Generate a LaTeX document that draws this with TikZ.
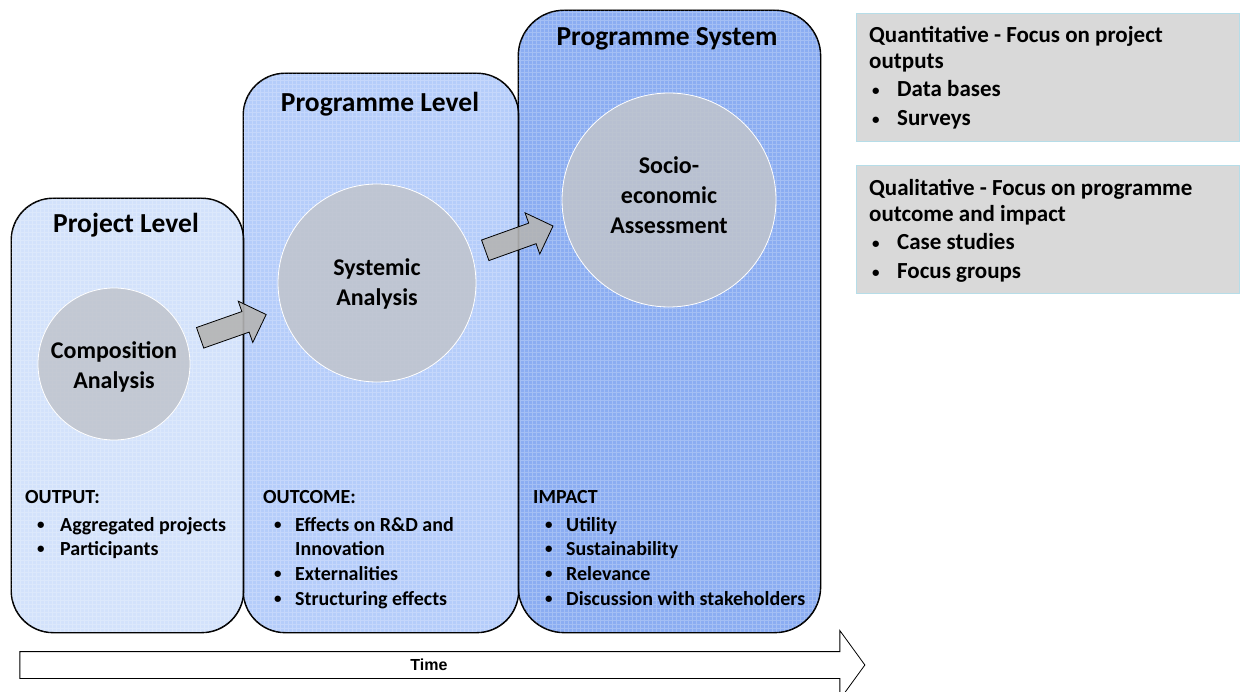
\documentclass[tikz,border=0pt]{standalone}
\usepackage{fontspec}
\setmainfont{Carlito}
\newfontfamily\arialf{Liberation Sans}
\usetikzlibrary{shapes.arrows}
\definecolor{boxA}{HTML}{D3E2FB}
\definecolor{boxB}{HTML}{B5CDFA}
\definecolor{boxC}{HTML}{8BADF2}
\definecolor{circ}{HTML}{C0C4CC}
\definecolor{sidefill}{HTML}{D9D9D9}
\definecolor{sideline}{HTML}{B6DDE8}
\definecolor{arrfill}{HTML}{B4B4B4}
\newcommand{\bul}{\raisebox{1.8pt}{\fontsize{15}{15}\selectfont •}}
\begin{document}
\begin{tikzpicture}[x=1pt,y=-1pt,
  level/.style={draw=black, line width=0.9pt, rounded corners=42pt, inner sep=0pt, anchor=north west},
  texture/.style={draw=white, opacity=0.22, line width=0.5pt},
  circnode/.style={circle, draw=white, line width=0.8pt, fill=circ, fill opacity=0.85, inner sep=0pt},
  ttl/.style={font=\bfseries\fontsize{27.5}{30}\selectfont, anchor=base},
  ctxt/.style={font=\bfseries\fontsize{24}{28}\selectfont, anchor=base},
  lst/.style={font=\bfseries\fontsize{20}{22}\selectfont, anchor=base west, inner sep=0pt},
  side/.style={font=\bfseries\fontsize{23}{26}\selectfont, anchor=base west, inner sep=0pt},
  sidebox/.style={draw=sideline, line width=1.2pt, fill=sidefill, inner sep=0pt, anchor=north west},
  blockarrow/.style={single arrow, draw=black, line width=0.8pt, fill=arrfill, fill opacity=0.9, inner sep=0pt, inner ysep=10.5pt, single arrow head extend=11pt, single arrow tip angle=90},
]
\useasboundingbox (0,0) rectangle (1244,692);

% level boxes
\node[level, fill=boxA, minimum width=232pt, minimum height=434pt] (proj) at (11,198) {};
\begin{scope}
  \clip[rounded corners=42pt] (11,198) rectangle (243,632);
  \draw[texture, step=4pt] (11,198) grid (243,632);
\end{scope}
\node[level, fill=boxB, minimum width=275pt, minimum height=559pt] (prog) at (243,73) {};
\begin{scope}
  \clip[rounded corners=42pt] (243,73) rectangle (518,632);
  \draw[texture, step=4pt] (243,73) grid (518,632);
\end{scope}
\node[level, fill=boxC, rounded corners=46pt, minimum width=302pt, minimum height=622pt] (sys) at (518,10) {};
\begin{scope}
  \clip[rounded corners=46pt] (518,10) rectangle (820,632);
  \draw[texture, step=4pt] (518,10) grid (820,632);
\end{scope}
\draw[line width=0.9pt, rounded corners=42pt] (proj.north west) rectangle (proj.south east);
\draw[line width=0.9pt, rounded corners=42pt] (prog.north west) rectangle (prog.south east);
\draw[line width=0.9pt, rounded corners=46pt] (sys.north west) rectangle (sys.south east);

% titles
\node[ttl] (t1) at (126,233) {Project Level};
\node[ttl] (t2) at (380,112) {Programme Level};
\node[ttl] (t3) at (667,46) {Programme System};

% circles
\node[circnode, minimum size=152pt] (c1) at (114,364) {};
\node[circnode, minimum size=198pt] (c2) at (377,283) {};
\node[circnode, minimum size=214pt] (c3) at (669,200) {};

\node[ctxt] (c1a) at (114,358) {Composition};
\node[ctxt] (c1b) at (114,388) {Analysis};
\node[ctxt] (c2a) at (377,276) {Systemic};
\node[ctxt] (c2b) at (377,306) {Analysis};
\node[ctxt] (c3a) at (669,174) {Socio-};
\node[ctxt] (c3b) at (669,204) {economic};
\node[ctxt] (c3c) at (669,234) {Assessment};

% block arrows
\node[blockarrow, minimum height=70pt, rotate=19.4] (a1) at (228,328) {};
\node[blockarrow, minimum height=72pt, rotate=19.7] (a2) at (514,240) {};

% lists
\node[lst] (o0) at (25,503) {OUTPUT:};
\node[lst] (o1b) at (37,531) {\bul};
\node[lst] (o1) at (60,531) {Aggregated projects};
\node[lst] (o2b) at (37,555) {\bul};
\node[lst] (o2) at (60,555) {Participants};

\node[lst] (m0) at (263,503) {OUTCOME:};
\node[lst] (m1b) at (274,531) {\bul};
\node[lst] (m1) at (295,531) {Effects on R\&D and};
\node[lst] (m1c) at (295,555) {Innovation};
\node[lst] (m2b) at (274,580) {\bul};
\node[lst] (m2) at (295,580) {Externalities};
\node[lst] (m3b) at (274,605) {\bul};
\node[lst] (m3) at (295,605) {Structuring effects};

\node[lst] (i0) at (533,503) {IMPACT};
\node[lst] (i1b) at (545,531) {\bul};
\node[lst] (i1) at (566,531) {Utility};
\node[lst] (i2b) at (545,555) {\bul};
\node[lst] (i2) at (566,555) {Sustainability};
\node[lst] (i3b) at (545,580) {\bul};
\node[lst] (i3) at (566,580) {Relevance};
\node[lst] (i4b) at (545,605) {\bul};
\node[lst] (i4) at (566,605) {Discussion with stakeholders};

% time arrow
\node[single arrow, draw=black, line width=0.8pt, fill=white, inner sep=0pt, inner ysep=13pt,
      single arrow head extend=21pt, single arrow tip angle=108, minimum height=845pt] (time) at (437.5,665) {};
\node[font=\arialf\bfseries\fontsize{16}{18}\selectfont] (timel) at (429,665) {Time};

% side boxes
\node[sidebox, minimum width=383pt, minimum height=128pt] (q1) at (856,13) {};
\node[side] (q1a) at (869,43) {Quantitative - Focus on project};
\node[side] (q1b) at (869,69) {outputs};
\node[side] (q1c) at (872,97) {\bul};
\node[side] (q1d) at (897,97) {Data bases};
\node[side] (q1e) at (872,126) {\bul};
\node[side] (q1f) at (897,126) {Surveys};

\node[sidebox, minimum width=383pt, minimum height=128pt] (q2) at (856,165) {};
\node[side] (q2a) at (869,196) {Qualitative - Focus on programme};
\node[side] (q2b) at (869,222) {outcome and impact};
\node[side] (q2c) at (872,250) {\bul};
\node[side] (q2d) at (897,250) {Case studies};
\node[side] (q2e) at (872,279) {\bul};
\node[side] (q2f) at (897,279) {Focus groups};
\end{tikzpicture}
\end{document}
